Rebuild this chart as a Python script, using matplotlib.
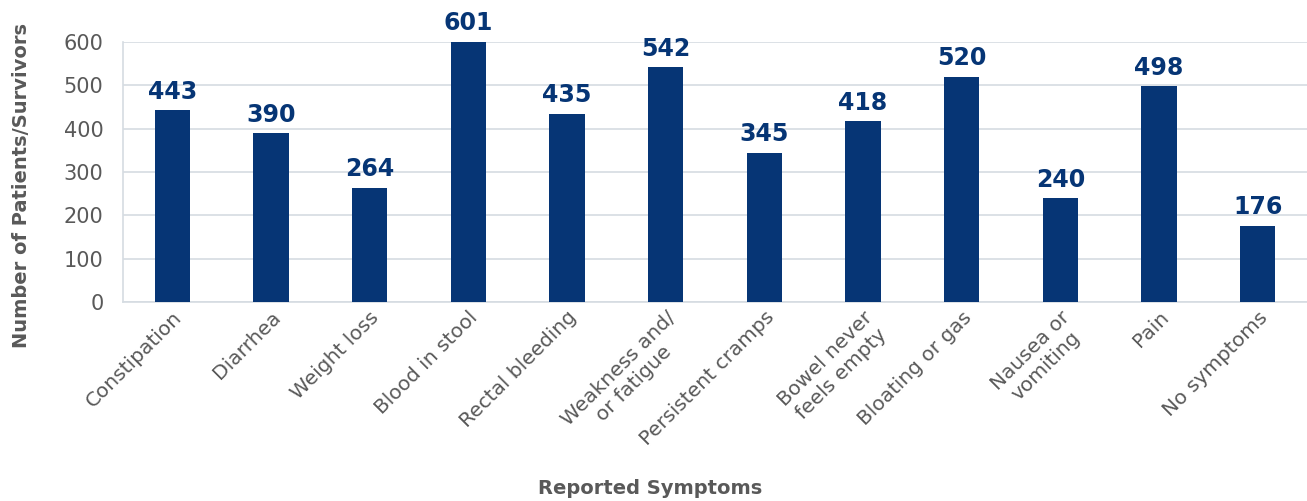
import matplotlib
matplotlib.use("Agg")
import matplotlib.pyplot as plt

# Symptom counts
symptoms = ["Constipation", "Diarrhea", "Weight loss", "Blood in stool",
            "Rectal bleeding", "Weakness and/\nor fatigue", "Persistent cramps",
            "Bowel never\nfeels empty", "Bloating or gas", "Nausea or\nvomiting",
            "Pain", "No symptoms"]
counts = [443, 390, 264, 601, 435, 542, 345, 418, 520, 240, 498, 176]
yticks = [0, 100, 200, 300, 400, 500, 600]

navy = "#063575"
gray = "#595959"
grid = "#D5DCE2"

plt.rcParams["font.family"] = ["DejaVu Sans"]

fig = plt.figure(figsize=(13.07, 5.01), dpi=100)
ax = fig.add_axes([123 / 1307, 1 - 302 / 501, 1 - 123 / 1307, 260 / 501])

x = range(len(symptoms))
bars = ax.bar(x, counts, width=0.355, color=navy, zorder=3, clip_on=False)

for xi, v in zip(x, counts):
    ax.annotate(str(v), (xi, v), xytext=(0, 4.5), textcoords="offset points",
                ha="center", va="bottom", fontsize=17, fontweight="bold",
                color=navy)

ax.set_xlim(-0.5, 11.5)
ax.set_ylim(0, 600)
ax.set_yticks(yticks)
ax.tick_params(axis="y", length=0, labelsize=15, labelcolor=gray, pad=14)
ax.tick_params(axis="x", length=0, pad=4)
ax.set_xticks(list(x))
ax.set_xticklabels(symptoms, rotation=45, ha="right", rotation_mode="anchor",
                   multialignment="center", fontsize=14.5, color=gray)
ax.yaxis.grid(True, color=grid, linewidth=1.2, zorder=0)
ax.set_axisbelow(True)

for side in ["top", "right"]:
    ax.spines[side].set_visible(False)
for side in ["left", "bottom"]:
    ax.spines[side].set_color(grid)
    ax.spines[side].set_linewidth(1.2)

fig.text(22 / 1307, 1 - 185 / 501, "Number of Patients/Survivors", rotation=90,
         ha="center", va="center", fontsize=14, fontweight="bold", color=gray)
fig.text(650 / 1307, 1 - 488 / 501, "Reported Symptoms", ha="center",
         va="center", fontsize=14, fontweight="bold", color=gray)

fig.savefig("out.png", dpi=100)
